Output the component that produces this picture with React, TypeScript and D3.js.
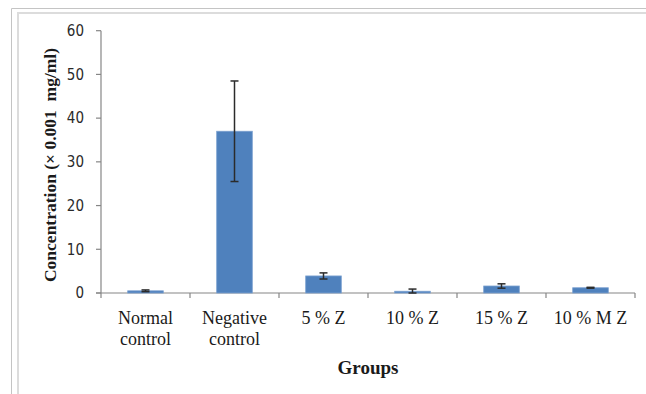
import * as d3 from 'd3';

const groups = [['Normal', 'control'], ['Negative', 'control'], ['5 % Z'], ['10 % Z'], ['15 % Z'], ['10 % M Z']];
const means = [0.5, 37, 3.9, 0.4, 1.6, 1.2];
const errors = [0.2, 11.5, 0.7, 0.5, 0.5, 0.1];
const yTicks = [0, 10, 20, 30, 40, 50, 60];

const W = 646, H = 394;
const plot = { left: 101, right: 635, top: 30.7, bottom: 293 };

export default function App() {
  const x = d3.scaleBand<number>()
    .domain(groups.map((_, i) => i))
    .range([plot.left, plot.right])
    .paddingInner(0.6)
    .paddingOuter(0.3);
  const band = d3.scaleBand<number>()
    .domain(groups.map((_, i) => i))
    .range([plot.left, plot.right]);
  const y = d3.scaleLinear().domain([0, 60]).range([plot.bottom, plot.top]);

  const axisColor = '#868686';
  const boundaries = d3.range(groups.length + 1).map(i => plot.left + i * band.step());

  return (
    <svg width={W} height={H} style={{ position: 'absolute', left: 0, top: 0, background: '#fff' }}>
      {/* frame */}
      <path d={`M11.5,${H} V8.5 H${W}`} fill="none" stroke="#c4c4c4" strokeWidth={1} />
      <path d={`M18,${H} V13 H${W}`} fill="none" stroke="#dcdcdc" strokeWidth={2} />

      {/* y axis */}
      <line x1={plot.left} x2={plot.left} y1={y(60)} y2={plot.bottom} stroke={axisColor} strokeWidth={1.2} />
      {yTicks.map(t => (
        <g key={t} transform={`translate(0,${y(t)})`}>
          <line x1={plot.left - 5} x2={plot.left} stroke={axisColor} strokeWidth={1.2} />
          <text x={84} dy="0.35em" textAnchor="end" fontFamily="'Liberation Sans Narrow', 'DejaVu Sans Condensed', sans-serif" fontSize={15} fill="#2a2a2a">{t}</text>
        </g>
      ))}

      {/* x axis */}
      <line x1={plot.left - 5} x2={plot.right} y1={plot.bottom} y2={plot.bottom} stroke={axisColor} strokeWidth={1.2} />
      {boundaries.map((bx, i) => (
        <line key={i} x1={bx} x2={bx} y1={plot.bottom} y2={plot.bottom + 5} stroke={axisColor} strokeWidth={1.2} />
      ))}

      {/* bars */}
      {means.map((m, i) => {
        const bx = x(i)!;
        const cx = bx + x.bandwidth() / 2;
        return (
          <g key={i}>
            <rect x={bx} y={y(m)} width={x.bandwidth()} height={plot.bottom - y(m)} fill="#4f81bd" stroke="#7ba0d0" strokeWidth={0.8} />
            <line x1={cx} x2={cx} y1={y(m + errors[i])} y2={y(Math.max(0, m - errors[i]))} stroke="#2b2b2b" strokeWidth={1.5} />
            <line x1={cx - 4} x2={cx + 4} y1={y(m + errors[i])} y2={y(m + errors[i])} stroke="#2b2b2b" strokeWidth={1.5} />
            <line x1={cx - 4} x2={cx + 4} y1={y(Math.max(0, m - errors[i]))} y2={y(Math.max(0, m - errors[i]))} stroke="#2b2b2b" strokeWidth={1.5} />
          </g>
        );
      })}

      {/* category labels */}
      {groups.map((lines, i) => (
        <text key={i} x={band(i)! + band.bandwidth() / 2} y={324} textAnchor="middle" fontFamily="'Liberation Serif', serif" fontSize={18} fill="#1a1a1a">
          {lines.map((l, j) => (
            <tspan key={j} x={band(i)! + band.bandwidth() / 2} dy={j === 0 ? 0 : 21}>{l}</tspan>
          ))}
        </text>
      ))}

      {/* axis titles */}
      <text x={368} y={374} textAnchor="middle" fontFamily="'Liberation Serif', serif" fontWeight="bold" fontSize={19} fill="#1a1a1a">Groups</text>
      <text transform={`translate(56,${(38 + 292) / 2}) rotate(-90)`} textAnchor="middle" fontFamily="'Liberation Serif', serif" fontWeight="bold" fontSize={17.5} fill="#1a1a1a" style={{ whiteSpace: 'pre' }}>
        {'Concentration (× 0.001  mg/ml)'}
      </text>
    </svg>
  );
}
